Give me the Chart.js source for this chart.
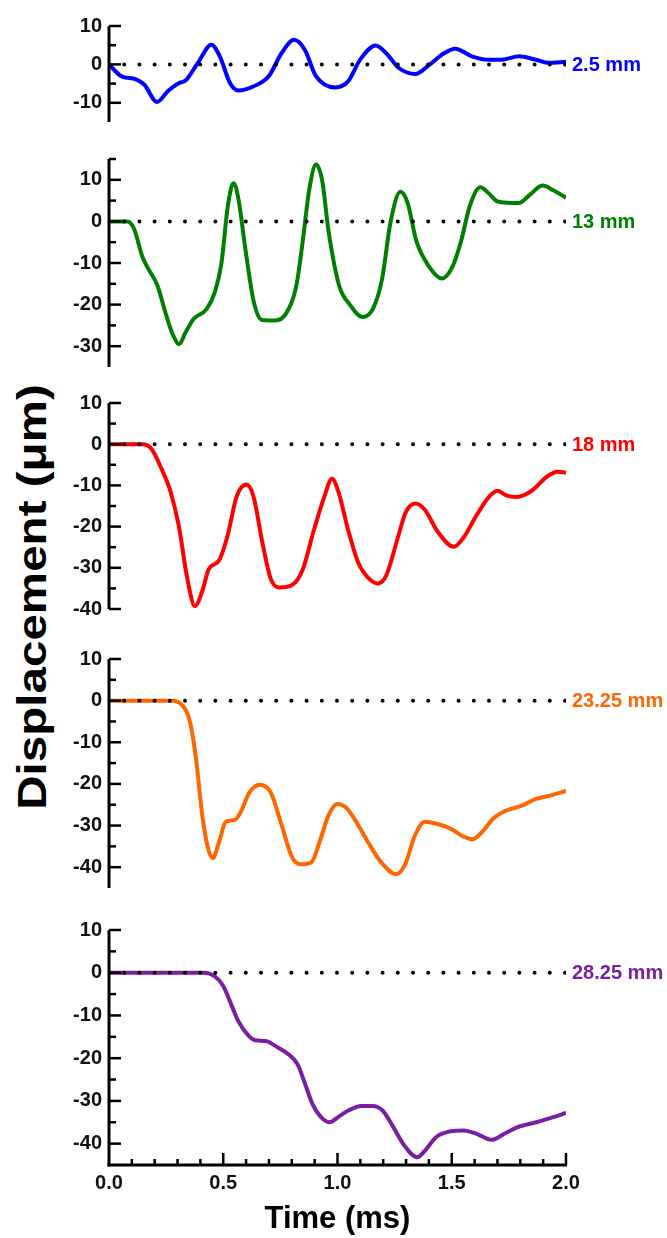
<!DOCTYPE html>
<html>
<head>
<meta charset="utf-8">
<script src="https://cdn.jsdelivr.net/npm/chart.js@4.4.1/dist/chart.umd.min.js"></script>
<style>
  body { margin: 0; background: #fff; }
  #wrap { position: relative; width: 667px; height: 1238px; overflow: hidden; }
  #wrap canvas { position: absolute; left: 0; }
  #yTitle {
    position: absolute; left: 32px; top: 597px;
    transform: translate(-50%, -50%) rotate(-90deg) scaleX(1.16);
    font: bold 41px "Liberation Sans", Arial, sans-serif;
    white-space: nowrap; color: #000;
  }
</style>
</head>
<body>
<div id="wrap">
  <div id="yTitle">Displacement (μm)</div>
</div>
<script>
// time axis (ms)
const timeRange = [0, 2];
const timeTicks = [0, 0.5, 1.0, 1.5, 2.0];

// 2.5 mm
const time25 = [0, 0.052, 0.118, 0.155, 0.21, 0.258, 0.305, 0.335, 0.39, 0.448, 0.485, 0.53, 0.567, 0.633, 0.70, 0.755, 0.81, 0.858, 0.905, 0.99, 1.045, 1.10, 1.167, 1.213, 1.27, 1.34, 1.40, 1.466, 1.515, 1.588, 1.663, 1.728, 1.794, 1.869, 1.925, 2.0];
const disp25 = [0, -3, -3.9, -5.3, -9.8, -6.9, -4.9, -4.2, 0.5, 5.1, 2.1, -4.9, -6.8, -5.7, -3, 2.9, 6.4, 3.7, -3, -6, -4.5, 1.3, 4.9, 2.9, -1, -2.5, -0.2, 2.9, 4.1, 2.1, 1.2, 1.3, 2.1, 1.2, 0.4, 0.7];

// 13 mm
const time13 = [0, 0.08, 0.109, 0.146, 0.174, 0.212, 0.249, 0.277, 0.308, 0.333, 0.371, 0.427, 0.464, 0.492, 0.52, 0.545, 0.567, 0.596, 0.633, 0.67, 0.727, 0.773, 0.82, 0.848, 0.876, 0.906, 0.933, 0.961, 1.007, 1.054, 1.11, 1.157, 1.195, 1.232, 1.275, 1.307, 1.345, 1.40, 1.457, 1.504, 1.541, 1.579, 1.625, 1.663, 1.70, 1.794, 1.84, 1.897, 1.944, 2.0];
const disp13 = [0, 0, -1.7, -8.5, -11.6, -15.4, -22.3, -26.9, -29.5, -26.9, -23.4, -21.1, -16.9, -10.1, 3.7, 9.2, 5.2, -6.3, -19.2, -23.7, -23.8, -22.3, -15.4, -4.7, 7.5, 13.7, 9.8, -2.4, -15.4, -20, -23, -20.8, -13.9, -0.2, 7.1, 4.4, -4.7, -10.8, -13.7, -10.8, -4.7, 3.7, 8.2, 6.7, 4.8, 4.4, 6.3, 8.6, 7.5, 5.7];

// 18 mm
const time18 = [0, 0.146, 0.184, 0.23, 0.268, 0.305, 0.343, 0.376, 0.408, 0.436, 0.483, 0.52, 0.558, 0.601, 0.633, 0.67, 0.708, 0.745, 0.801, 0.848, 0.895, 0.942, 0.976, 1.007, 1.045, 1.092, 1.139, 1.176, 1.213, 1.26, 1.298, 1.341, 1.382, 1.438, 1.509, 1.551, 1.607, 1.663, 1.70, 1.738, 1.785, 1.85, 1.916, 1.963, 2.0];
const disp18 = [0, 0, -1, -6, -11.3, -19.7, -32.7, -39.3, -35.7, -30.4, -28.1, -22, -12.8, -9.8, -12.8, -23.5, -32.7, -34.8, -34.2, -30.4, -21.2, -12.8, -8.4, -12.1, -20.5, -28.9, -32.7, -33.8, -31.9, -23.5, -16.6, -14.4, -15.9, -21.2, -24.9, -22.7, -17.4, -12.8, -11.3, -12.4, -12.8, -11.3, -7.9, -6.7, -6.9];

// 23.25 mm
const time2325 = [0, 0.277, 0.315, 0.352, 0.38, 0.408, 0.436, 0.455, 0.483, 0.511, 0.549, 0.577, 0.614, 0.661, 0.708, 0.755, 0.801, 0.839, 0.886, 0.923, 0.961, 0.998, 1.036, 1.082, 1.139, 1.195, 1.258, 1.298, 1.335, 1.382, 1.429, 1.494, 1.55, 1.592, 1.635, 1.682, 1.738, 1.803, 1.869, 1.925, 2.0];
const disp2325 = [0, 0, -0.8, -4.6, -13.6, -27.5, -36, -37.8, -33.7, -29.1, -28.7, -26.7, -22.1, -20.2, -22.1, -29.8, -37.6, -39.3, -38.8, -33.7, -27.5, -24.8, -25.6, -29.1, -34.5, -39.1, -41.7, -39.1, -32.9, -29.1, -29.5, -30.7, -32.6, -33.3, -31.4, -28.3, -26.4, -25.3, -23.6, -22.9, -21.7];

// 28.25 mm
const time2825 = [0, 0.416, 0.462, 0.50, 0.537, 0.565, 0.602, 0.639, 0.686, 0.733, 0.788, 0.826, 0.854, 0.891, 0.928, 0.966, 1.003, 1.049, 1.105, 1.152, 1.198, 1.245, 1.292, 1.348, 1.385, 1.431, 1.497, 1.553, 1.609, 1.674, 1.73, 1.786, 1.87, 1.944, 2.0];
const disp2825 = [0, 0, -0.8, -3.1, -7.7, -11.2, -14.2, -15.8, -16, -17.3, -19.2, -21.5, -25.4, -30.8, -33.8, -35, -33.8, -32.2, -31.2, -31.2, -32.3, -36.2, -40.4, -43.2, -41.5, -38.5, -37.1, -36.9, -37.7, -39.1, -37.7, -36.2, -35, -33.8, -32.8];

const panels = [
  { name: '2.5 mm',   color: '#0000ff', time: time25,   disp: disp25,   range: [-15, 10], top: 20.5, bottom: 127 },
  { name: '13 mm',    color: '#008000', time: time13,   disp: disp13,   range: [-35, 15], top: 154,  bottom: 372 },
  { name: '18 mm',    color: '#ff0000', time: time18,   disp: disp18,   range: [-40, 10], top: 398,  bottom: 614 },
  { name: '23.25 mm', color: '#ff6600', time: time2325, disp: disp2325, range: [-45, 10], top: 654,  bottom: 893 },
  { name: '28.25 mm', color: '#7b1fa2', time: time2825, disp: disp2825, range: [-45, 10], top: 925,  bottom: 1165 }
];

const W = 667, H = 1238;
const AXIS_X = 109, PLOT_RIGHT = 566, PAD = 14;
const FONT = '"Liberation Sans", Arial, sans-serif';

// axis lines with inward ticks + the distance label at the zero line
const axisMarks = {
  id: 'axisMarks',
  afterDatasetsDraw(chart, args, opts) {
    const { ctx, chartArea: a, scales: { x, y } } = chart;
    ctx.save();
    ctx.strokeStyle = '#000';
    ctx.lineWidth = 3;
    ctx.beginPath();
    ctx.moveTo(a.left, a.top);
    ctx.lineTo(a.left, a.bottom + (opts.xAxis ? 1.5 : 0));
    ctx.stroke();

    ctx.lineWidth = 2.5;
    for (let v = y.min; v <= y.max; v += 5) {
      if (v === y.min && v % 10 !== 0) continue;
      const py = y.getPixelForValue(v);
      const len = v % 10 === 0 ? 12 : 7;
      ctx.beginPath();
      ctx.moveTo(a.left, py);
      ctx.lineTo(a.left + len, py);
      ctx.stroke();
    }

    if (opts.xAxis) {
      ctx.lineWidth = 3;
      ctx.beginPath();
      ctx.moveTo(a.left - 1.5, a.bottom);
      ctx.lineTo(a.right + 1, a.bottom);
      ctx.stroke();
      ctx.lineWidth = 2.5;
      for (let k = 1; k <= 20; k++) {
        const px = x.getPixelForValue(k / 10);
        const len = k % 5 === 0 ? 12 : 6;
        ctx.beginPath();
        ctx.moveTo(px, a.bottom);
        ctx.lineTo(px, a.bottom - len);
        ctx.stroke();
      }
    }

    ctx.fillStyle = opts.color;
    ctx.font = 'bold 20px ' + FONT;
    ctx.textAlign = 'left';
    ctx.textBaseline = 'middle';
    ctx.fillText(opts.label, a.right + 6, y.getPixelForValue(0) + 1);
    ctx.restore();
  }
};

const wrap = document.getElementById('wrap');

panels.forEach((p, i) => {
  const last = i === panels.length - 1;
  const top = p.top - PAD;
  const h = last ? H - top : p.bottom - p.top + 2 * PAD;

  const canvas = document.createElement('canvas');
  canvas.width = W;
  canvas.height = h;
  canvas.style.top = top + 'px';
  canvas.style.width = W + 'px';
  canvas.style.height = h + 'px';
  wrap.appendChild(canvas);

  new Chart(canvas, {
    type: 'line',
    data: {
      datasets: [
        {
          // dotted zero line
          data: timeRange.map(t => ({ x: t, y: 0 })),
          borderColor: '#000',
          borderWidth: 4,
          borderDash: [0, 15.2],
          borderCapStyle: 'round',
          pointRadius: 0,
          order: 0
        },
        {
          data: p.time.map((t, j) => ({ x: t, y: p.disp[j] })),
          borderColor: p.color,
          borderWidth: 4,
          cubicInterpolationMode: 'monotone',
          pointRadius: 0,
          fill: false,
          order: 1
        }
      ]
    },
    options: {
      responsive: false,
      animation: false,
      events: [],
      layout: { padding: { left: 0, right: W - PLOT_RIGHT, top: PAD, bottom: last ? 0 : PAD } },
      plugins: {
        legend: { display: false },
        tooltip: { enabled: false },
        axisMarks: { label: p.name, color: p.color, xAxis: last }
      },
      scales: {
        x: {
          type: 'linear',
          min: timeRange[0],
          max: timeRange[1],
          display: last,
          grid: { display: false, drawTicks: false },
          border: { display: false },
          afterBuildTicks: s => { s.ticks = timeTicks.map(v => ({ value: v })); },
          afterFit: s => { if (last) s.height = H - p.bottom; },
          ticks: {
            font: { family: FONT, size: 20, weight: 'bold' },
            color: '#111',
            padding: 6,
            maxRotation: 0,
            autoSkip: false,
            callback: v => Number(v).toFixed(1)
          },
          title: {
            display: true,
            text: 'Time (ms)',
            font: { family: FONT, size: 31, weight: 'bold' },
            color: '#000',
            padding: { top: 0, bottom: 0 }
          }
        },
        y: {
          min: p.range[0],
          max: p.range[1],
          grid: { display: false, drawTicks: false },
          border: { display: false },
          afterBuildTicks: s => {
            const ticks = [];
            for (let v = Math.ceil(s.min / 10) * 10; v <= s.max; v += 10) ticks.push({ value: v });
            s.ticks = ticks;
          },
          afterFit: s => { s.width = AXIS_X; },
          ticks: {
            font: { family: FONT, size: 20, weight: 'bold' },
            color: '#111',
            padding: 7
          }
        }
      }
    },
    plugins: [axisMarks]
  });
});
</script>
</body>
</html>
